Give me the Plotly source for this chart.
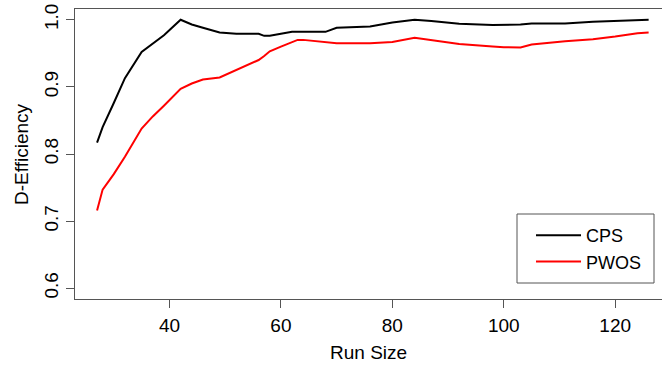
import plotly.graph_objects as go

# Run sizes and D-efficiency of the two design construction methods
run_size = [27, 28, 30, 32, 35, 37, 39, 42, 44, 46, 49, 52, 56, 57, 58, 60,
            62, 63, 64, 68, 70, 76, 80, 84, 87, 92, 98, 100, 103, 105, 111,
            116, 120, 124, 126]
cps = [0.817, 0.840, 0.876, 0.913, 0.952, 0.964, 0.977, 1.000, 0.993, 0.988,
       0.981, 0.979, 0.979, 0.976, 0.976, 0.979, 0.982, 0.982, 0.982, 0.982,
       0.988, 0.990, 0.996, 1.000, 0.998, 0.994, 0.992, 0.992, 0.993, 0.9945,
       0.9945, 0.997, 0.998, 1.000, 1.000]
pwos = [0.716, 0.747, 0.770, 0.796, 0.838, 0.856, 0.872, 0.897, 0.905, 0.911,
        0.914, 0.925, 0.940, 0.946, 0.953, 0.960, 0.967, 0.970, 0.970, 0.966,
        0.965, 0.965, 0.967, 0.973, 0.970, 0.964, 0.960, 0.959, 0.9587, 0.963,
        0.968, 0.971, 0.975, 0.980, 0.981]

x_ticks = [40, 60, 80, 100, 120]
y_ticks = [0.6, 0.7, 0.8, 0.9, 1.0]

W, H = 662, 367
ML, MR, MT, MB = 75, 0, 9, 68
FONT = "Liberation Sans, Arial, sans-serif"
AXIS_COL = "#555555"

fig = go.Figure()
fig.add_trace(go.Scatter(x=run_size, y=cps, mode="lines", name="CPS",
                         line=dict(color="black", width=2)))
fig.add_trace(go.Scatter(x=run_size, y=pwos, mode="lines", name="PWOS",
                         line=dict(color="#ff0000", width=2)))

pw, ph = W - ML - MR, H - MT - MB


def px_x(p):
    return (p - ML) / pw


def px_y(p):
    return (H - MB - p) / ph


# Legend frame
fig.add_shape(type="rect", xref="paper", yref="paper",
              x0=px_x(517), x1=px_x(654), y0=px_y(283), y1=px_y(214),
              line=dict(color=AXIS_COL, width=1), fillcolor="white", layer="below")

fig.update_layout(
    width=W, height=H,
    margin=dict(l=ML, r=MR, t=MT, b=MB, pad=0, autoexpand=False),
    paper_bgcolor="white", plot_bgcolor="white",
    font=dict(family=FONT, size=19, color="black"),
    showlegend=True,
    legend=dict(x=px_x(531), y=px_y(217), xref="paper", yref="paper",
                xanchor="left", yanchor="top", bgcolor="rgba(0,0,0,0)",
                borderwidth=0, font=dict(size=18), tracegroupgap=0,
                itemwidth=45),
    xaxis=dict(range=[23.04, 128.4], tickvals=x_ticks, ticks="outside",
               ticklen=8, tickcolor=AXIS_COL, showline=True, linecolor=AXIS_COL,
               linewidth=1, mirror=True, showgrid=False, zeroline=False,
               ticklabelstandoff=1),
    yaxis=dict(range=[0.584, 1.016], tickvals=y_ticks,
               ticktext=[f"{v:.1f}" for v in y_ticks], ticks="outside",
               ticklen=8, tickcolor=AXIS_COL, showline=True, linecolor=AXIS_COL,
               linewidth=1, mirror=False, showgrid=False, zeroline=False,
               tickangle=-90, ticklabelstandoff=0),
    annotations=[
        dict(text="Run Size", xref="paper", yref="paper", x=0.5,
             y=px_y(352), xanchor="center", yanchor="middle", showarrow=False,
             font=dict(size=19)),
        dict(text="D-Efficiency", xref="paper", yref="paper", x=px_x(21),
             y=0.5, xanchor="center", yanchor="middle", showarrow=False,
             textangle=-90, font=dict(size=19)),
    ],
)

fig.write_html("out.html")
